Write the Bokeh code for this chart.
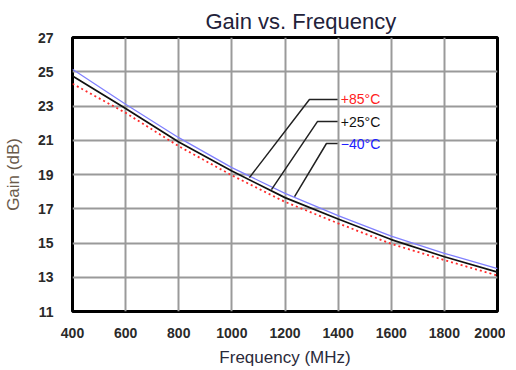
from bokeh.plotting import figure
from bokeh.models import FixedTicker, Range1d, Label
from bokeh.embed import file_html
from bokeh.resources import INLINE

# ---- data ----
freq_mhz = [400, 600, 800, 1000, 1200, 1400, 1600, 1800, 2000]
gain_m40 = [25.15, 23.1, 21.15, 19.4, 17.9, 16.6, 15.4, 14.4, 13.5]
gain_p25 = [24.75, 22.85, 20.9, 19.2, 17.65, 16.4, 15.2, 14.2, 13.3]
gain_p85 = [24.3, 22.6, 20.65, 18.95, 17.4, 16.15, 14.95, 14.0, 13.1]
x_ticks = [400, 600, 800, 1000, 1200, 1400, 1600, 1800, 2000]
y_ticks = [11, 13, 15, 17, 19, 21, 23, 25, 27]
series_labels = ["+85°C", "+25°C", "\u221240°C"]

FONT = "Liberation Sans"

p = figure(frame_width=425, frame_height=274, output_backend="svg", toolbar_location=None,
           x_range=Range1d(400, 2000), y_range=Range1d(11, 27),
           min_border_left=71, min_border_right=8, min_border_top=37, min_border_bottom=50)

p.title.text = "Gain vs. Frequency"
p.title.text_font = FONT
p.title.text_font_size = "22px"
p.title.text_font_style = "normal"
p.title.text_color = "#22223a"
p.title.align = "left"
p.title.offset = 133
p.title.standoff = 7

p.xaxis.ticker = FixedTicker(ticks=x_ticks)
p.yaxis.ticker = FixedTicker(ticks=y_ticks)
p.xgrid.ticker = FixedTicker(ticks=x_ticks)
p.ygrid.ticker = FixedTicker(ticks=y_ticks)
for g in (p.xgrid, p.ygrid):
    g.grid_line_color = "#9a9a9a"
    g.grid_line_width = 2

for ax in (p.xaxis, p.yaxis):
    ax.axis_line_color = None
    ax.major_tick_line_color = None
    ax.minor_tick_line_color = None
    ax.major_label_text_font = FONT
    ax.major_label_text_font_size = "14px"
    ax.major_label_text_font_style = "bold"
    ax.major_label_text_color = "#2a2a2a"
    ax.axis_label_text_font = FONT
    ax.axis_label_text_font_style = "normal"

p.xaxis.axis_label = "Frequency (MHz)"
p.xaxis.axis_label_text_color = "#2a2a3a"
p.xaxis.axis_label_text_font_size = "17px"
p.xaxis.major_label_standoff = 10
p.xaxis.axis_label_standoff = 7
p.yaxis.axis_label = "Gain (dB)"
p.yaxis.axis_label_text_color = "#6a5a4a"
p.yaxis.axis_label_text_font_size = "17px"
p.yaxis.major_label_standoff = 13
p.yaxis.axis_label_standoff = 12

p.outline_line_color = "black"
p.outline_line_width = 3
p.background_fill_color = "white"
p.border_fill_color = "white"

# ---- curves ----
p.line(freq_mhz, gain_m40, line_color="#8080ff", line_width=1.3)
p.line(freq_mhz, gain_p25, line_color="#111111", line_width=1.7)
p.line(freq_mhz, gain_p85, line_color="#ff2a2a", line_width=1.8, line_dash="2 3")

# ---- leader lines and labels (annotation positions) ----
leaders = [
    ([1066, 1292, 1398], [18.82, 23.38, 23.38]),
    ([1149, 1322, 1398], [18.12, 22.09, 22.09]),
    ([1236, 1356, 1398], [17.71, 20.81, 20.81]),
]
label_colors = ["#ff2020", "#111111", "#2020ff"]
for (lx, ly), txt, col in zip(leaders, series_labels, label_colors):
    p.line(lx, ly, line_color="#222222", line_width=1.5)
    p.add_layout(Label(x=1410, y=ly[-1], text=txt, text_color=col,
                       text_font=FONT, text_font_size="14px",
                       text_baseline="middle", text_align="left"))

open("out.html", "w").write(file_html(p, INLINE))
